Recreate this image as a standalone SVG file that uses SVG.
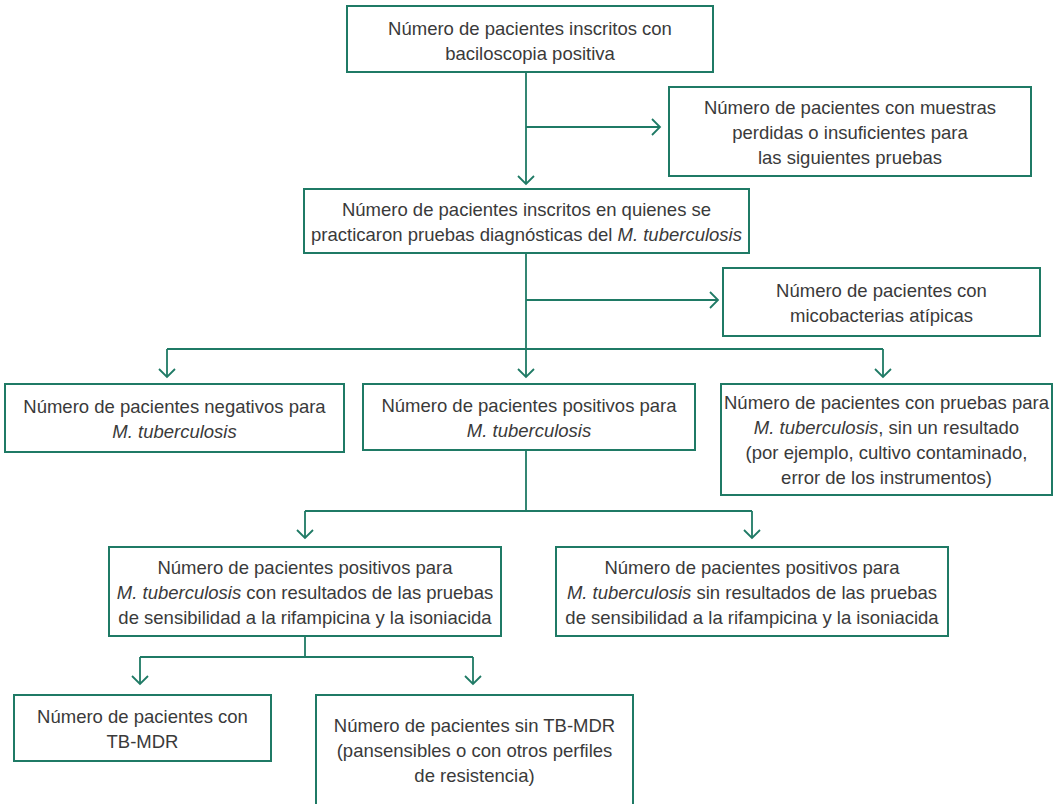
<svg xmlns="http://www.w3.org/2000/svg" width="1058" height="804" viewBox="0 0 1058 804">
<style>
.box{fill:#fff;stroke:#1f7a65;stroke-width:2}
.ln{fill:none;stroke:#1f7a65;stroke-width:1.8}
.ah{fill:none;stroke:#1f7a65;stroke-width:1.8;stroke-linejoin:miter}
text{font-family:"Liberation Sans",Arial,sans-serif;font-size:18.5px;fill:#3a3a3a;text-anchor:middle}
.i{font-style:italic}
</style>
<rect width="1058" height="804" fill="#fff"/>
<g id="connectors">
<path class="ln" d="M526,72V184M526,127H660"/>
<polyline class="ah" points="518,176 526,184 534,176"/>
<polyline class="ah" points="652,119 660,127 652,135"/>
<path class="ln" d="M526,253V377M526,300H718M167,349H883M167,349V377M883,349V377"/>
<polyline class="ah" points="718,292 726,300 718,308" transform="translate(-8,0)"/>
<polyline class="ah" points="159,369 167,377 175,369"/>
<polyline class="ah" points="518,369 526,377 534,369"/>
<polyline class="ah" points="875,369 883,377 891,369"/>
<path class="ln" d="M526,450V511M305,511H752M305,511V538M752,511V538"/>
<polyline class="ah" points="297,530 305,538 313,530"/>
<polyline class="ah" points="744,530 752,538 760,530"/>
<path class="ln" d="M305,636V657M140,657H473M140,657V684M473,657V684"/>
<polyline class="ah" points="132,676 140,684 148,676"/>
<polyline class="ah" points="465,676 473,684 481,676"/>
</g>
<g id="n1">
<rect class="box" x="347" y="6" width="366" height="66"/>
<text x="530" y="34.5">Número de pacientes inscritos con</text>
<text x="530" y="59.5">baciloscopia positiva</text>
</g>
<g id="n2">
<rect class="box" x="669" y="87" width="362" height="89"/>
<text x="850" y="114">Número de pacientes con muestras</text>
<text x="850" y="139">perdidas o insuficientes para</text>
<text x="850" y="164">las siguientes pruebas</text>
</g>
<g id="n3">
<rect class="box" x="304" y="189" width="445" height="64"/>
<text x="526.5" y="216">Número de pacientes inscritos en quienes se</text>
<text x="526.5" y="241">practicaron pruebas diagnósticas del <tspan class="i">M. tuberculosis</tspan></text>
</g>
<g id="n4">
<rect class="box" x="723" y="268" width="317" height="68"/>
<text x="881.5" y="297">Número de pacientes con</text>
<text x="881.5" y="322">micobacterias atípicas</text>
</g>
<g id="n5">
<rect class="box" x="5" y="384" width="339" height="68"/>
<text x="174.5" y="413">Número de pacientes negativos para</text>
<text x="174.5" y="438" class="i">M. tuberculosis</text>
</g>
<g id="n6">
<rect class="box" x="363" y="384" width="332" height="66"/>
<text x="529" y="412">Número de pacientes positivos para</text>
<text x="529" y="437" class="i">M. tuberculosis</text>
</g>
<g id="n7">
<rect class="box" x="721" y="384" width="331" height="111"/>
<text x="886.5" y="409">Número de pacientes con pruebas para</text>
<text x="886.5" y="434"><tspan class="i">M. tuberculosis</tspan>, sin un resultado</text>
<text x="886.5" y="459">(por ejemplo, cultivo contaminado,</text>
<text x="886.5" y="484">error de los instrumentos)</text>
</g>
<g id="n8">
<rect class="box" x="109" y="547" width="392" height="89"/>
<text x="305" y="574">Número de pacientes positivos para</text>
<text x="305" y="599"><tspan class="i">M. tuberculosis</tspan> con resultados de las pruebas</text>
<text x="305" y="624">de sensibilidad a la rifampicina y la isoniacida</text>
</g>
<g id="n9">
<rect class="box" x="556" y="547" width="392" height="89"/>
<text x="752" y="574">Número de pacientes positivos para</text>
<text x="752" y="599"><tspan class="i">M. tuberculosis</tspan> sin resultados de las pruebas</text>
<text x="752" y="624">de sensibilidad a la rifampicina y la isoniacida</text>
</g>
<g id="n10">
<rect class="box" x="14" y="695" width="257" height="66"/>
<text x="142.5" y="723">Número de pacientes con</text>
<text x="142.5" y="748">TB-MDR</text>
</g>
<g id="n11">
<rect class="box" x="316" y="695" width="317" height="120"/>
<text x="474.5" y="732">Número de pacientes sin TB-MDR</text>
<text x="474.5" y="757">(pansensibles o con otros perfiles</text>
<text x="474.5" y="782">de resistencia)</text>
</g>
</svg>
